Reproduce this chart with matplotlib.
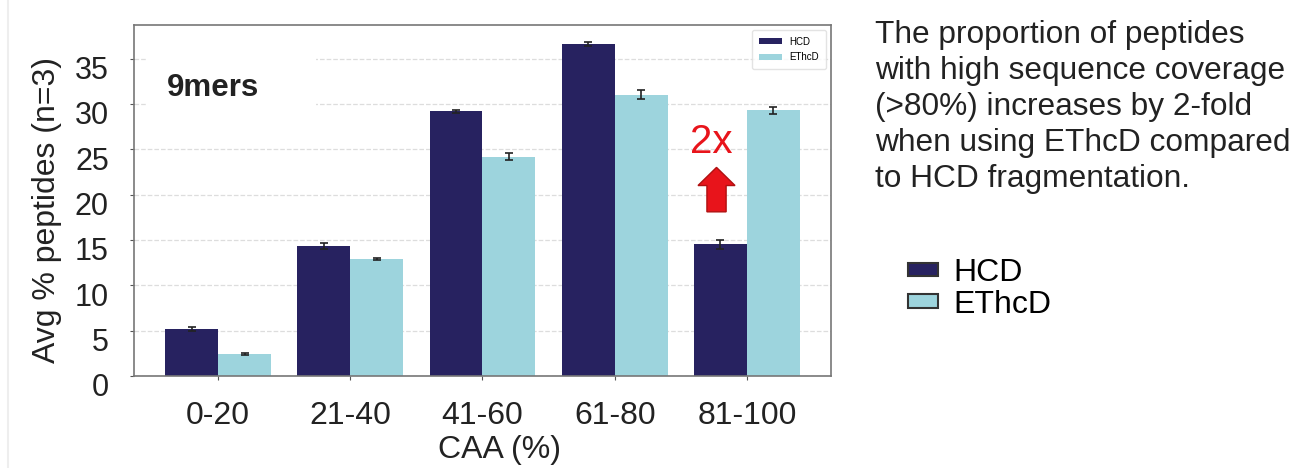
import numpy as np
import matplotlib.pyplot as plt
import matplotlib.transforms as mtransforms
from matplotlib.patches import FancyArrow, Patch, Rectangle

# data
categories = ["0-20", "21-40", "41-60", "61-80", "81-100"]
hcd_mean = [5.2, 14.3, 29.2, 36.6, 14.5]
hcd_err = [0.2, 0.35, 0.15, 0.25, 0.5]
ethcd_mean = [2.4, 12.9, 24.2, 31.0, 29.3]
ethcd_err = [0.1, 0.15, 0.4, 0.5, 0.4]
series_names = ["HCD", "EThcD"]
yticks = [0, 5, 10, 15, 20, 25, 30, 35]

hcd_color = "#272260"
ethcd_color = "#9dd4dd"
plt.rcParams["font.family"] = ["Liberation Sans", "DejaVu Sans"]

fig = plt.figure(figsize=(12.92, 4.68), dpi=100)
ax = fig.add_axes([0.1037, 0.1966, 0.5395, 0.75])

x = np.arange(len(categories))
w = 0.4
ekw = dict(ecolor="#222222", elinewidth=1.2, capsize=3, capthick=1.2)
ax.bar(x - w / 2, hcd_mean, w, yerr=hcd_err, color=hcd_color, label=series_names[0],
       error_kw=ekw, zorder=2)
ax.bar(x + w / 2, ethcd_mean, w, yerr=ethcd_err, color=ethcd_color, label=series_names[1],
       error_kw=ekw, zorder=2)

ax.set_xlim(-0.636, 4.636)
ax.set_ylim(0, 38.7)
ax.set_xticks(x)
ax.set_xticklabels(categories, fontsize=23)
ax.set_yticks(yticks)
ax.set_yticklabels([str(t) for t in yticks], fontsize=22)
ax.tick_params(axis="x", length=3, pad=15, colors="#555555", labelcolor="#222222")
ax.tick_params(axis="y", length=3, pad=15, colors="#555555", labelcolor="#222222")
offset = mtransforms.ScaledTranslation(0, -9 / 100, fig.dpi_scale_trans)
for lab in ax.get_yticklabels():
    lab.set_transform(lab.get_transform() + offset)

ax.set_ylabel("Avg % peptides (n=3)", fontsize=23, color="#222222")
ax.set_xlabel("CAA (%)", fontsize=23, color="#222222")
ax.yaxis.set_label_coords(-0.103, 0.474)
ax.xaxis.set_label_coords(0.524, -0.168)

ax.grid(axis="y", color="#dddddd", linestyle="--", linewidth=0.9, zorder=0)
ax.set_axisbelow(True)
for sp in ax.spines.values():
    sp.set_color("#777777")
    sp.set_linewidth(1.2)

# white patch behind the panel label hides the grid there
ax.add_patch(Rectangle((0.0186, 0.744), 0.243, 0.185, transform=ax.transAxes,
                       facecolor="white", edgecolor="none", zorder=1))
ax.text(0.047, 0.82, "9mers", transform=ax.transAxes, fontsize=22.5, fontweight="bold",
        color="#222222", va="center", zorder=3)

leg = ax.legend(loc="upper right", fontsize=7, frameon=True, fancybox=True,
                edgecolor="#dddddd", handlelength=2.4, handleheight=0.6,
                borderpad=0.7, labelspacing=0.6)

# 2x annotation
ax.text(3.73, 25.8, "2x", color="#e8141b", fontsize=29, ha="center", va="center")
ax.add_patch(FancyArrow(3.77, 18.1, 0, 4.9, width=0.145, head_width=0.28,
                        head_length=2.0, length_includes_head=True,
                        facecolor="#e8141b", edgecolor="#b01010", linewidth=1, zorder=3))

# side text
fig.text(0.677, 0.958,
         "The proportion of peptides\nwith high sequence coverage\n(>80%) increases by 2-fold\n"
         "when using EThcD compared\nto HCD fragmentation.",
         fontsize=22.8, color="#222222", va="top", ha="left", linespacing=1.27)

handles = [Patch(facecolor=hcd_color, edgecolor="#333333", linewidth=1.5),
           Patch(facecolor=ethcd_color, edgecolor="#333333", linewidth=1.5)]
fig.legend(handles, series_names, loc="center left", bbox_to_anchor=(0.7028, 0.383),
           frameon=False, fontsize=23, handlelength=0.94, handleheight=0.28,
           handletextpad=0.47, labelspacing=0.05, borderpad=0, borderaxespad=0)

fig.add_artist(plt.Line2D([0.006, 0.006], [0, 1], color="#eeeeee", linewidth=1.5))

fig.savefig("out.png", dpi=100)
